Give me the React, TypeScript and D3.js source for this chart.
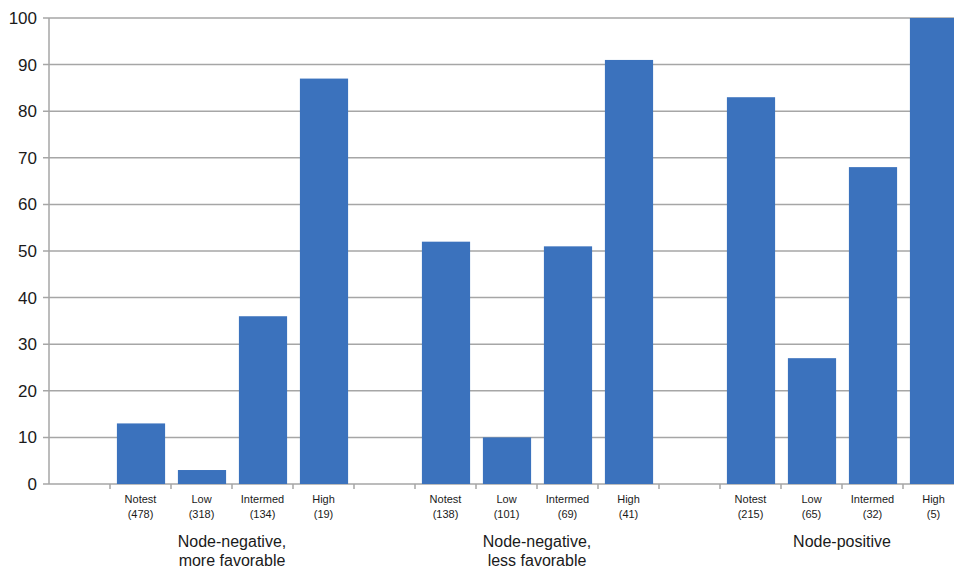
import React from "react";
import * as d3 from "d3";

const groups = ["Node-negative,\nmore favorable", "Node-negative,\nless favorable", "Node-positive"];
const levels = ["Notest", "Low", "Intermed", "High"];
const counts = [
  ["(478)", "(318)", "(134)", "(19)"],
  ["(138)", "(101)", "(69)", "(41)"],
  ["(215)", "(65)", "(32)", "(5)"],
];
const values = [
  [13, 3, 36, 87],
  [52, 10, 51, 91],
  [83, 27, 68, 100],
];
const yTicks = [0, 10, 20, 30, 40, 50, 60, 70, 80, 90, 100];

type Slot = { key: string; g: number; l: number };
const slots: Slot[] = [];
groups.forEach((_, g) => {
  slots.push({ key: `blank${g}`, g, l: -1 });
  levels.forEach((_, l) => slots.push({ key: `s${g}-${l}`, g, l }));
});

export default function App() {
  const W = 954, H = 572;
  const x0 = 49, slotW = 61;
  const x = d3.scaleBand<string>()
    .domain(slots.map(s => s.key))
    .range([x0, x0 + slotW * slots.length])
    .paddingInner(0.21)
    .paddingOuter(0.105);
  const y = d3.scaleLinear().domain([0, 100]).range([484, 18]);
  const step = x.step();
  const slotStart = (k: string) => x(k)! - (step - x.bandwidth()) / 2;
  const grey = "#a6a6a6";
  const font = "'Liberation Sans', Arial, sans-serif";
  return (
    <svg width={W} height={H} style={{ position: "absolute", left: 0, top: 0, background: "#fff" }} fontFamily={font}>
      {yTicks.map(t => (
        <g key={t}>
          <line x1={x0 - 6} x2={W} y1={y(t)} y2={y(t)} stroke={grey} strokeWidth={1.5} />
          <text x={37} y={y(t)} dy="0.35em" textAnchor="end" fontSize={17} fill="#1a1a1a">{t}</text>
        </g>
      ))}
      <line x1={x0} x2={x0} y1={y(100)} y2={y(0)} stroke={grey} strokeWidth={1.5} />
      {slots.map(s => {
        const sx = slotStart(s.key) + step;
        return <line key={"t" + s.key} x1={sx} x2={sx} y1={y(0)} y2={y(0) + 5} stroke={grey} strokeWidth={1.5} />;
      })}
      {slots.filter(s => s.l >= 0).map(s => {
        const v = values[s.g][s.l];
        return (
          <rect key={s.key} x={x(s.key)! + 0.5} y={y(v)} width={x.bandwidth()} height={y(0) - y(v)} fill="#3b72bd" />
        );
      })}
      {slots.filter(s => s.l >= 0).map(s => {
        const cx = x(s.key)! + x.bandwidth() / 2;
        return (
          <text key={"l" + s.key} x={cx} textAnchor="middle" fontSize={11} fill="#1a1a1a">
            <tspan x={cx} y={503}>{levels[s.l]}</tspan>
            <tspan x={cx} y={518}>{counts[s.g][s.l]}</tspan>
          </text>
        );
      })}
      {groups.map((g, gi) => {
        const first = slotStart(`s${gi}-0`);
        const last = slotStart(`s${gi}-3`) + step;
        const cx = (first + last) / 2;
        return (
          <text key={g} textAnchor="middle" fontSize={16} fill="#1a1a1a">
            {g.split("\n").map((line, i) => (
              <tspan key={i} x={cx} y={547 + i * 19}>{line}</tspan>
            ))}
          </text>
        );
      })}
    </svg>
  );
}
